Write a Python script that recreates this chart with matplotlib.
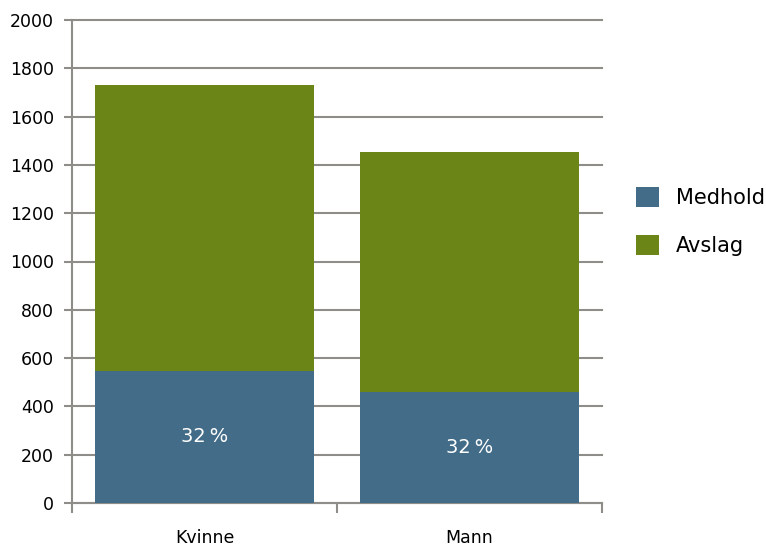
import matplotlib.pyplot as plt
import numpy as np
from matplotlib.patches import Patch

categories = ["Kvinne", "Mann"]
medhold = [548, 461]
avslag = [1184, 991]
pct_labels = ["32\u2009%", "32\u2009%"]

BLUE = "#426C87"
GREEN = "#6B8516"
GRAY = "#8F8D8A"

plt.rcParams["font.family"] = "DejaVu Sans"

fig = plt.figure(figsize=(7.66, 5.49), dpi=100)
ax = fig.add_axes([72 / 766, 46 / 549, 530 / 766, 483 / 549])

x = np.arange(len(categories))
ax.bar(x, medhold, width=0.83, color=BLUE, zorder=3)
ax.bar(x, avslag, width=0.83, bottom=medhold, color=GREEN, zorder=3)

for xi, m, lab in zip(x, medhold, pct_labels):
    ax.text(xi, m / 2, lab, ha="center", va="center", color="white", fontsize=14, zorder=4)

ax.set_xlim(-0.5, 1.5)
ax.set_ylim(0, 2000)
ax.set_yticks(np.arange(0, 2001, 200))
ax.yaxis.grid(True, color=GRAY, linewidth=1.5, zorder=0)
ax.set_axisbelow(True)
for gl in ax.get_ygridlines():
    gl.set_clip_on(False)

ax.set_xticks(x)
ax.set_xticklabels(categories, fontsize=12.5)
ax.set_xticks([-0.5, 0.5, 1.5], minor=True)
ax.tick_params(axis="x", which="major", length=0, pad=19)
ax.tick_params(axis="x", which="minor", length=7, width=1.5, color=GRAY)
ax.tick_params(axis="y", length=6, width=1.5, color=GRAY, labelsize=12.5, pad=7)

for side in ("top", "right"):
    ax.spines[side].set_visible(False)
for side in ("left", "bottom"):
    ax.spines[side].set_color(GRAY)
    ax.spines[side].set_linewidth(1.5)

handles = [Patch(facecolor=BLUE, label="Medhold"), Patch(facecolor=GREEN, label="Avslag")]
fig.legend(handles=handles, loc="upper left", bbox_to_anchor=(636 / 766, 1 - 187 / 549),
           frameon=False, fontsize=15, handlelength=1.1, handleheight=1.1,
           handletextpad=0.8, labelspacing=1.3, borderpad=0, borderaxespad=0)

fig.savefig("out.png", dpi=100)
